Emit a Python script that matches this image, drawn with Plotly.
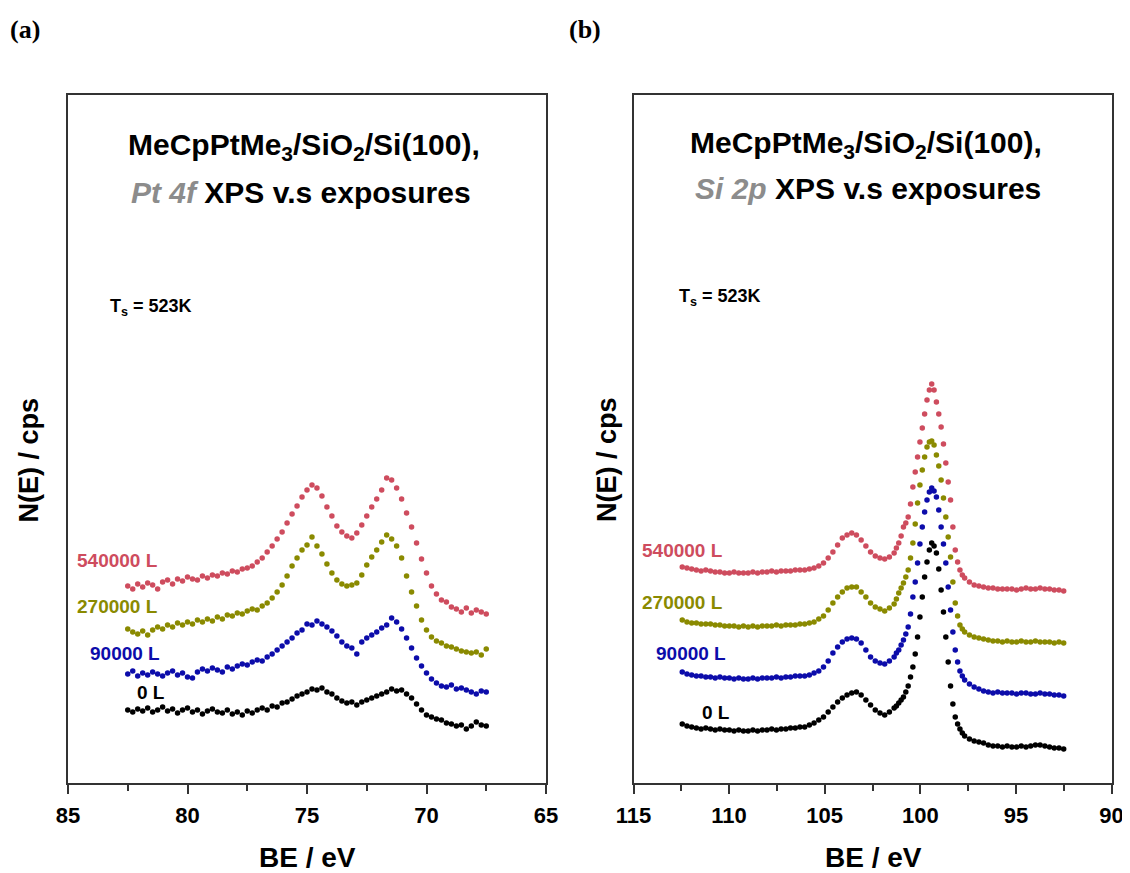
import numpy as np
import plotly.graph_objects as go

# ---------------- data ----------------
# Pt 4f region (panel a): binding-energy scan grid (eV)
BE_PT = np.linspace(82.5, 67.5, 73)

PT_0L = [62, 60, 63, 61, 64, 60, 62, 65, 61, 63, 59, 62, 64, 60, 62, 58, 61, 63, 60, 59,
         62, 58, 60, 57, 61, 59, 62, 64, 62, 66, 65, 69, 70, 73, 76, 78, 80, 83, 82, 84,
         80, 78, 74, 71, 69, 70, 67, 70, 72, 74, 76, 78, 80, 83, 81, 82, 78, 74, 68, 62,
         57, 55, 53, 52, 49, 48, 46, 47, 43, 46, 50, 47, 46]
PT_90000L = [98, 101, 96, 99, 97, 100, 98, 96, 99, 101, 97, 99, 95, 94, 100, 103, 101, 104, 102, 100,
             105, 103, 106, 108, 107, 110, 112, 111, 115, 118, 122, 126, 130, 134, 139, 142, 148, 147, 151, 148,
             145, 141, 136, 130, 126, 124, 118, 130, 134, 137, 140, 144, 147, 154, 150, 143, 134, 124, 114, 106,
             99, 93, 89, 86, 85, 87, 83, 84, 82, 80, 78, 81, 80]
PT_270000L = [143, 140, 138, 141, 137, 142, 145, 143, 147, 145, 149, 147, 150, 148, 152, 150, 153, 151, 155, 153,
              157, 156, 159, 158, 161, 163, 162, 166, 169, 174, 180, 187, 196, 206, 214, 222, 227, 235, 226, 218,
              208, 199, 192, 188, 186, 187, 189, 197, 207, 215, 222, 230, 237, 233, 226, 214, 196, 180, 166, 152,
              142, 135, 131, 129, 126, 125, 123, 121, 120, 119, 120, 117, 123]
PT_540000L = [186, 183, 188, 185, 189, 187, 183, 190, 192, 188, 193, 191, 195, 193, 192, 196, 194, 197, 196, 199,
              198, 201, 200, 203, 204, 206, 210, 214, 220, 226, 233, 240, 249, 258, 266, 275, 282, 287, 284, 276,
              265, 256, 246, 240, 236, 234, 239, 247, 256, 265, 273, 282, 294, 292, 284, 273, 259, 245, 229, 213,
              199, 186, 178, 172, 170, 165, 163, 160, 164, 159, 162, 160, 158]

# Si 2p region (panel b): binding-energy scan grid (eV), finer step across the main peak
BE_SI = np.concatenate([np.linspace(112.45, 101.37, 46),
                        np.linspace(101.25, 97.68, 30),
                        np.linspace(97.43, 92.5, 21)])

SI_0L = [48, 46, 45, 44, 43, 44, 43, 42, 43, 42, 42, 41, 42, 41, 41, 42, 41, 42, 42, 43,
         42, 43, 43, 44, 44, 45, 45, 47, 49, 52, 55, 60, 65, 70, 74, 77, 79, 80, 77, 72,
         67, 62, 59, 57, 60, 64,
         66, 69, 72, 75, 80, 86, 95, 105, 118, 135, 155, 175, 195, 210, 222, 229, 226, 219, 203, 182,
         160, 135, 110, 86, 68, 55, 48, 43, 39, 36,
         33, 31, 30, 29, 27, 26, 26, 25, 26, 25, 25, 26, 25, 26, 27, 27, 26, 25, 24, 24, 23]
SI_90000L = [100, 98, 97, 96, 96, 95, 95, 94, 95, 94, 94, 93, 94, 93, 93, 94, 93, 94, 94, 94,
             95, 94, 95, 95, 96, 96, 96, 97, 99, 101, 105, 111, 119, 125, 130, 133, 134, 133, 129, 122,
             115, 111, 109, 108, 111, 115,
             119, 122, 127, 132, 138, 145, 158, 175, 190, 209, 228, 245, 260, 272, 280, 284, 281, 275, 262, 245,
             228, 209, 185, 162, 140, 122, 110, 101, 96, 92,
             88, 85, 83, 81, 80, 79, 80, 79, 79, 79, 78, 79, 79, 78, 78, 79, 78, 78, 77, 77, 76]
SI_270000L = [152, 150, 149, 149, 148, 148, 148, 147, 147, 146, 146, 146, 145, 146, 145, 146, 145, 146, 146, 146,
              147, 146, 147, 147, 147, 148, 148, 149, 150, 153, 156, 162, 169, 175, 180, 184, 185, 185, 180, 175,
              169, 165, 163, 161, 164, 168,
              173, 179, 184, 189, 195, 202, 214, 229, 248, 269, 287, 302, 315, 325, 330, 331, 327, 317, 306, 292,
              274, 255, 235, 215, 190, 169, 156, 147, 143, 140,
              137, 135, 134, 133, 132, 131, 131, 130, 131, 130, 130, 131, 130, 130, 131, 130, 130, 130, 129, 130, 129]
SI_540000L = [205, 204, 203, 202, 201, 202, 201, 200, 200, 199, 199, 200, 199, 199, 199, 200, 199, 200, 200, 201,
              200, 201, 201, 201, 202, 202, 202, 203, 204, 206, 209, 214, 220, 227, 234, 237, 239, 237, 232, 226,
              220, 216, 214, 213, 215, 219,
              224, 229, 236, 245, 249, 255, 268, 285, 300, 315, 330, 344, 358, 372, 382, 388, 382, 370, 358, 345,
              328, 309, 290, 272, 245, 222, 210, 202, 197, 194,
              190, 187, 186, 185, 184, 184, 183, 183, 183, 183, 182, 183, 184, 183, 183, 184, 183, 183, 182, 182, 181]

EXPOSURES = ["0 L", "90000 L", "270000 L", "540000 L"]
COLORS = ["#000000", "#0C0CAA", "#8A8A00", "#CE4C5E"]
PT_SERIES = [PT_0L, PT_90000L, PT_270000L, PT_540000L]
SI_SERIES = [SI_0L, SI_90000L, SI_270000L, SI_540000L]

# ---------------- figure ----------------
# the page body adds an 8 px margin, so the figure is sized to the window minus that
OFF = 8
W, H = 1130 - OFF, 873 - OFF
fig = go.Figure()

for name, col, ys in zip(EXPOSURES, COLORS, PT_SERIES):
    fig.add_trace(go.Scatter(x=BE_PT, y=ys, mode="markers", name=name,
                             marker=dict(color=col, size=5.5, line=dict(width=0)),
                             xaxis="x", yaxis="y", showlegend=False))
for name, col, ys in zip(EXPOSURES, COLORS, SI_SERIES):
    fig.add_trace(go.Scatter(x=BE_SI, y=ys, mode="markers", name=name,
                             marker=dict(color=col, size=5.5, line=dict(width=0)),
                             xaxis="x2", yaxis="y2", showlegend=False))

def px(x):
    return (x - OFF) / W

def py(y):
    return 1 - (y - OFF) / H

FRAME = "#333333"
BOLD = "Liberation Sans"
tickfont = dict(family=BOLD, size=22, color="black", weight="bold")

def xaxis_cfg(dom, rng):
    return dict(domain=dom, range=rng, tickmode="linear", tick0=rng[1], dtick=5,
                ticks="outside", ticklen=9, tickwidth=2, tickcolor=FRAME, ticklabelstandoff=3,
                minor=dict(ticks="outside", ticklen=6, tickwidth=2, dtick=2.5, tickcolor=FRAME),
                showline=True, linewidth=2, linecolor=FRAME, mirror=True, automargin=False,
                showgrid=False, zeroline=False, tickfont=tickfont)

def yaxis_cfg(dom, anchor):
    return dict(domain=dom, range=[-11, 677], anchor=anchor, showline=True, linewidth=2,
                linecolor=FRAME, mirror=True, showgrid=False, zeroline=False, automargin=False,
                showticklabels=False, ticks="")

ydom = [py(783), py(95)]
fig.update_layout(
    template="none",
    width=W, height=H, margin=dict(l=0, r=0, t=0, b=0, pad=0, autoexpand=False),
    paper_bgcolor="white", plot_bgcolor="white",
    xaxis=dict(**xaxis_cfg([px(68), px(546)], [85, 65]), anchor="y"),
    yaxis=yaxis_cfg(ydom, "x"),
    xaxis2=dict(**xaxis_cfg([px(633.5), px(1111.5)], [115, 90]), anchor="y2"),
    yaxis2=yaxis_cfg(ydom, "x2"),
)

ann = []
def add_text(text, x, y, size, color="black", xanchor="center", family=BOLD, angle=0):
    ann.append(dict(text=text, x=px(x), y=py(y), xref="paper", yref="paper",
                    xanchor=xanchor, yanchor="middle", showarrow=False, textangle=angle,
                    font=dict(family=family, size=size, color=color, weight="bold")))

# panel letters
add_text("(a)", 25, 29, 26, family="Liberation Serif")
add_text("(b)", 585, 29, 26, family="Liberation Serif")

# titles
GRAY = "#8C8C8C"
add_text("MeCpPtMe<sub>3</sub>/SiO<sub>2</sub>/Si(100),", 304, 146, 30)
add_text(f"<i><span style='color:{GRAY}'>Pt 4f</span></i> XPS v.s exposures", 301, 192, 30)
add_text("MeCpPtMe<sub>3</sub>/SiO<sub>2</sub>/Si(100),", 866, 144, 30)
add_text(f"<i><span style='color:{GRAY}'>Si 2p</span></i> XPS v.s exposures", 868, 188, 30)

# temperature
add_text("T<sub>s</sub> = 523K", 108, 307, 18, xanchor="left")
add_text("T<sub>s</sub> = 523K", 677, 297, 18, xanchor="left")

# series labels
PT_LABEL_Y = [692, 653, 606, 560]
SI_LABEL_Y = [712, 653, 602, 550]
PT_LABEL_X = [167, 162, 160, 160]
SI_LABEL_X = [732, 728, 725, 725]
for name, col, lx, ly in zip(EXPOSURES, COLORS, PT_LABEL_X, PT_LABEL_Y):
    add_text(name, lx, ly, 19, color=col, xanchor="right")
for name, col, lx, ly in zip(EXPOSURES, COLORS, SI_LABEL_X, SI_LABEL_Y):
    add_text(name, lx, ly, 19, color=col, xanchor="right")

# axis titles
add_text("BE / eV", 307, 857, 28)
add_text("BE / eV", 873, 857, 28)
add_text("N(E) / cps", 28.5, 460, 27, angle=-90)
add_text("N(E) / cps", 607, 460, 27, angle=-90)

fig.update_layout(annotations=ann)
fig.write_html("out.html")
